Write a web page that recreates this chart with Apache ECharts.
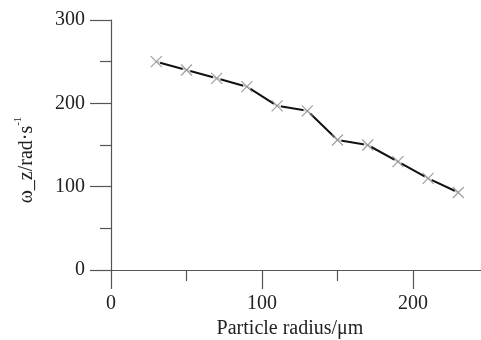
<!DOCTYPE html>
<html>
<head>
<meta charset="utf-8">
<script src="https://cdn.jsdelivr.net/npm/echarts@6/dist/echarts.min.js"></script>
<style>html,body{margin:0;padding:0;background:#fff}#c{width:481px;height:340px}</style>
</head>
<body>
<div id="c"></div>
<script>
var radius = [30, 50, 70, 90, 110, 130, 150, 170, 190, 210, 230];
var omega = [250, 240, 230, 220, 197, 191, 156, 150, 130, 110, 93];
var xTicks = [0, 100, 200];
var xMinorTicks = [50, 150];
var yTicks = [0, 100, 200, 300];

var pts = radius.map(function (r, i) { return [r, omega[i]]; });
var font = 'Liberation Serif, Times New Roman, serif';
var axisColor = '#555';
var gridBox = {left: 111, right: 0, top: 20, bottom: 70, containLabel: false, outerBoundsMode: 'none'};
var chart = echarts.init(document.getElementById('c'), null, {renderer: 'canvas'});
chart.setOption({
  animation: false,
  backgroundColor: '#fff',
  grid: [gridBox, Object.assign({}, gridBox)],
  xAxis: [{
    type: 'value', min: 0, max: 245, gridIndex: 0,
    name: 'Particle radius/\u03bcm', nameLocation: 'middle', nameGap: 49,
    nameTextStyle: {fontFamily: font, fontSize: 20, color: '#222', padding: [0, 12, 0, 0]},
    axisLine: {show: true, onZero: false, lineStyle: {color: axisColor, width: 1.2}},
    axisTick: {show: true, inside: false, length: 19, customValues: xTicks, lineStyle: {color: axisColor, width: 1.2}},
    axisLabel: {fontFamily: font, fontSize: 20, color: '#222', margin: 24, customValues: xTicks},
    splitLine: {show: false}
  }, {
    type: 'value', min: 0, max: 245, gridIndex: 1,
    axisLine: {show: false},
    axisTick: {show: true, inside: false, length: 11, customValues: xMinorTicks, lineStyle: {color: axisColor, width: 1.2}},
    axisLabel: {show: false},
    splitLine: {show: false}
  }],
  yAxis: [{
    type: 'value', min: 0, max: 300, interval: 100, gridIndex: 0,
    name: '{m|\u03c9_z/rad\u00b7s}{s|-1}', nameLocation: 'middle', nameGap: 70, nameRotate: 90,
    nameTextStyle: {fontFamily: font, fontSize: 20, color: '#222', padding: [0, 30, 0, 0],
      rich: {m: {fontFamily: font, fontSize: 20, color: '#222'},
             s: {fontFamily: font, fontSize: 11, color: '#222', verticalAlign: 'top', lineHeight: 28}}},
    axisLine: {show: true, onZero: false, lineStyle: {color: axisColor, width: 1.2}},
    axisTick: {show: true, inside: false, length: 21, lineStyle: {color: axisColor, width: 1.2}},
    minorTick: {show: true, splitNumber: 2, length: 11, lineStyle: {color: axisColor, width: 1.2}},
    axisLabel: {fontFamily: font, fontSize: 20, color: '#222', margin: 26,
      formatter: function (v) { return yTicks.indexOf(v) >= 0 ? String(v) : ''; }},
    splitLine: {show: false}
  }, {
    type: 'value', min: 0, max: 300, gridIndex: 1, show: false
  }],
  series: [
    {type: 'line', data: pts, showSymbol: false, symbol: 'none',
     lineStyle: {color: '#111', width: 2}, z: 2},
    {type: 'scatter', data: pts, symbol: 'circle', symbolSize: 8,
     itemStyle: {color: '#fff'}, z: 3, silent: true},
    {type: 'scatter', data: pts, symbol: 'path://M0,0L10,10M10,0L0,10', symbolSize: 11,
     itemStyle: {color: 'none', borderColor: '#888', borderWidth: 1.2}, z: 4, silent: true}
  ]
});
</script>
</body>
</html>
